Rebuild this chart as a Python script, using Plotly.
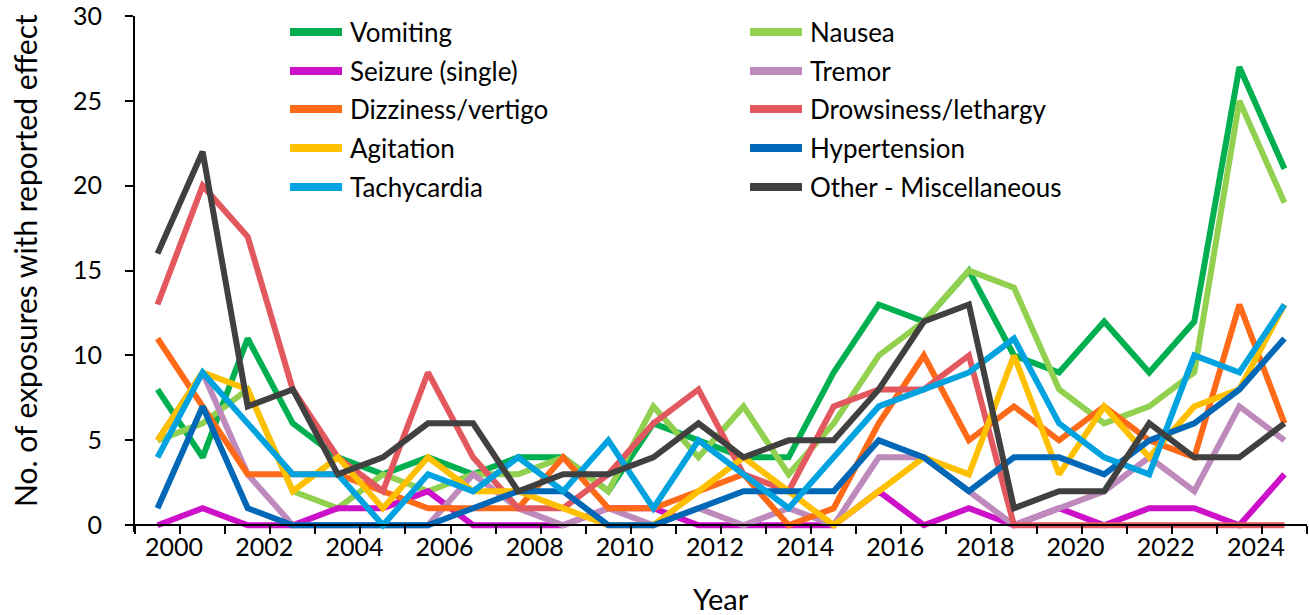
import plotly.graph_objects as go

years = list(range(2000, 2026))

vomiting     = [8, 4, 11, 6, 4, 3, 4, 3, 4, 4, 2, 6, 5, 4, 4, 9, 13, 12, 15, 10, 9, 12, 9, 12, 27, 21]
nausea       = [5, 6, 8, 2, 1, 3, 2, 3, 3, 4, 2, 7, 4, 7, 3, 6, 10, 12, 15, 14, 8, 6, 7, 9, 25, 19]
seizure      = [0, 1, 0, 0, 1, 1, 2, 0, 0, 0, 1, 1, 0, 0, 0, 0, 2, 0, 1, 0, 1, 0, 1, 1, 0, 3]
tremor       = [5, 9, 3, 0, 0, 0, 0, 3, 1, 0, 1, 0, 1, 0, 1, 0, 4, 4, 2, 0, 1, 2, 4, 2, 7, 5]
dizziness    = [11, 7, 3, 3, 3, 2, 1, 1, 1, 4, 1, 1, 2, 3, 0, 1, 6, 10, 5, 7, 5, 7, 5, 4, 13, 6]
drowsiness   = [13, 20, 17, 8, 4, 2, 9, 4, 1, 1, 3, 6, 8, 3, 2, 7, 8, 8, 10, 0, 0, 0, 0, 0, 0, 0]
agitation    = [5, 9, 8, 2, 4, 1, 4, 2, 2, 1, 0, 0, 2, 4, 2, 0, 2, 4, 3, 10, 3, 7, 4, 7, 8, 13]
hypertension = [1, 7, 1, 0, 0, 0, 0, 1, 2, 2, 0, 0, 1, 2, 2, 2, 5, 4, 2, 4, 4, 3, 5, 6, 8, 11]
tachycardia  = [4, 9, 6, 3, 3, 0, 3, 2, 4, 2, 5, 1, 5, 3, 1, 4, 7, 8, 9, 11, 6, 4, 3, 10, 9, 13]
other        = [16, 22, 7, 8, 3, 4, 6, 6, 2, 3, 3, 4, 6, 4, 5, 5, 8, 12, 13, 1, 2, 2, 6, 4, 4, 6]

series = [
    ("Vomiting", vomiting, "#00B050"),
    ("Nausea", nausea, "#92D050"),
    ("Seizure (single)", seizure, "#CC11C8"),
    ("Tremor", tremor, "#BE8ABC"),
    ("Dizziness/vertigo", dizziness, "#FF6A18"),
    ("Drowsiness/lethargy", drowsiness, "#E2585E"),
    ("Agitation", agitation, "#FFC000"),
    ("Hypertension", hypertension, "#0068B6"),
    ("Tachycardia", tachycardia, "#00A3E0"),
    ("Other - Miscellaneous", other, "#404040"),
]

y_title = "No. of exposures with reported effect"
x_title = "Year"

FONT = "Lato"
W, H = 1309, 615
ML, MR, MT, MB = 135, 2, 16, 83
PW, PH = W - ML - MR, H - MT - MB


def px_x(px):
    return (px - ML) / PW


def px_y(py):
    return (H - MB - py) / PH


fig = go.Figure()
for name, vals, color in series:
    fig.add_trace(go.Scatter(x=years, y=vals, mode="lines", name=name,
                             line=dict(color=color, width=6), showlegend=False))

# manual two-column legend (row-major, like the reference)
shapes, annotations = [], []
col_x = [287, 747]
row_y = [32, 71, 109, 148, 187]
for i, (name, vals, color) in enumerate(series):
    cx = col_x[i % 2]
    ry = row_y[i // 2]
    shapes.append(dict(type="line", xref="paper", yref="paper",
                       x0=px_x(cx + 3), x1=px_x(cx + 55), y0=px_y(ry), y1=px_y(ry),
                       line=dict(color=color, width=8)))
    annotations.append(dict(xref="paper", yref="paper", x=px_x(cx + 61), y=px_y(ry),
                            text=name, showarrow=False, xanchor="left", yanchor="middle",
                            font=dict(family=FONT, size=26, color="black")))

annotations.append(dict(xref="paper", yref="paper", x=px_x(25), y=px_y(261),
                        text=y_title, textangle=-90, showarrow=False,
                        xanchor="center", yanchor="middle",
                        font=dict(family=FONT, size=30, color="black")))
annotations.append(dict(xref="paper", yref="paper", x=px_x(721), y=px_y(598),
                        text=x_title, showarrow=False,
                        xanchor="center", yanchor="middle",
                        font=dict(family=FONT, size=29, color="black")))

ymin, ymax = -0.4, 30.0
boundaries = [years[0] - 0.5 + k for k in range(len(years) + 1)]
btext = []
for b in boundaries:
    yr = int(b - 0.5)
    btext.append(str(yr) if (yr - 2000) % 2 == 0 and yr in years and yr <= 2024 else "")

fig.update_layout(
    width=W, height=H,
    margin=dict(l=ML, r=MR, t=MT, b=MB),
    paper_bgcolor="white", plot_bgcolor="white",
    font=dict(family=FONT, color="black", size=25),
    showlegend=False,
    shapes=shapes, annotations=annotations,
    xaxis=dict(
        range=[years[0] - 0.5, years[-1] + 0.5],
        tickmode="array", tickvals=boundaries, ticktext=btext,
        ticks="outside", ticklen=8, tickwidth=2, tickcolor="black",
        ticklabelshift=-6, ticklabelstandoff=-8, ticklabeloverflow="allow",
        showline=True, linecolor="black", linewidth=2,
        showgrid=False, zeroline=False, automargin=False,
        anchor="free", position=(0 - ymin) / (ymax - ymin),
        tickfont=dict(size=25),
    ),
    yaxis=dict(
        range=[ymin, ymax], tickmode="array", tickvals=[0, 5, 10, 15, 20, 25, 30],
        ticks="outside", ticklen=8, tickwidth=2, tickcolor="black",
        ticklabelstandoff=18, ticklabeloverflow="allow", automargin=False,
        showline=True, linecolor="black", linewidth=2,
        showgrid=False, zeroline=False,
        tickfont=dict(size=25),
    ),
)

fig.write_html("out.html",
               config={"displayModeBar": False},
               post_script="document.body.style.margin='0px';document.body.style.overflow='hidden';")
